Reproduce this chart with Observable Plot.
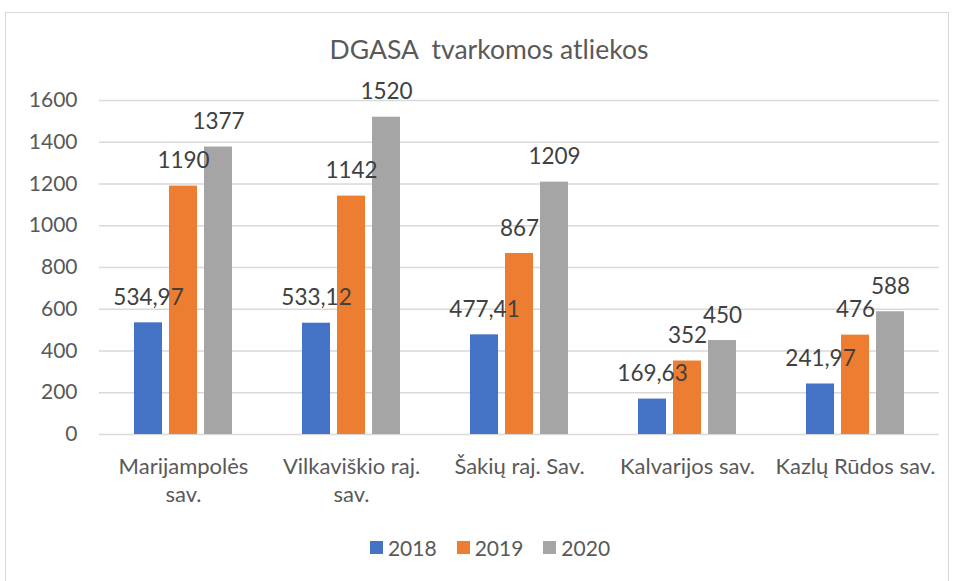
<!DOCTYPE html>
<html><head><meta charset="utf-8">
<script src="https://cdn.jsdelivr.net/npm/d3@7"></script>
<script src="https://cdn.jsdelivr.net/npm/@observablehq/plot@0.6"></script>
<style>
body{margin:0;background:#fff;font-family:Lato, sans-serif;}
#frame{position:absolute;left:5px;top:12px;width:944px;height:580px;border:1px solid #d9d9d9;box-sizing:border-box;}
#title{position:absolute;left:0;width:978px;top:33px;text-align:center;font-size:26.5px;color:#595959;white-space:pre;}
#chart{position:absolute;left:0;top:0;}
#legend{position:absolute;top:535px;left:0;width:980px;display:flex;justify-content:center;align-items:center;font-size:21px;color:#595959;}
#legend .item{display:flex;align-items:center;margin:0 10px;}
#legend .sw{width:13px;height:13px;margin-right:5px;}
</style></head>
<body>
<div id="frame"></div>
<div id="chart"></div>
<div id="title"></div>
<div id="legend"></div>
<script>
const categories = ["Marijampolės\nsav.", "Vilkaviškio raj.\nsav.", "Šakių raj. Sav.", "Kalvarijos sav.", "Kazlų Rūdos sav."];
const years = ["2018", "2019", "2020"];
const values2018 = [534.97, 533.12, 477.41, 169.63, 241.97];
const values2019 = [1190, 1142, 867, 352, 476];
const values2020 = [1377, 1520, 1209, 450, 588];
const colors = ["#4472C4", "#ED7D31", "#A5A5A5"];
const yTicks = [0, 200, 400, 600, 800, 1000, 1200, 1400, 1600];
const titleText = "DGASA  tvarkomos atliekos";

document.getElementById("title").textContent = titleText;

const series = [values2018, values2019, values2020];
const data = [];
categories.forEach((c, i) => years.forEach((y, j) => data.push({cat: c, year: y, value: series[j][i]})));

const chart = Plot.plot({
  width: 955, height: 520,
  marginLeft: 97, marginRight: 15, marginTop: 100, marginBottom: 86,
  style: {fontFamily: "Lato, sans-serif", fontSize: "20px", color: "#595959", background: "transparent"},
  fx: {domain: categories, padding: 0, label: null},
  x: {domain: years, paddingInner: 0.194, paddingOuter: 0.94, axis: null},
  y: {domain: [0, 1600], label: null},
  color: {domain: years, range: colors},
  marks: [
    Plot.ruleY(yTicks, {stroke: "#d9d9d9", strokeWidth: 1.5}),
    Plot.axisY({ticks: yTicks, tickFormat: d => String(d), tickSize: 0, tickPadding: 22, label: null, fontSize: 21}),
    Plot.barY(data, {fx: "cat", x: "year", y: "value", fill: "year"}),
    Plot.text(data, {fx: "cat", x: "year", y: "value", text: d => String(d.value).replace(".", ","), dy: -25, fill: "#404040", fontSize: 22.5}),
    Plot.axisFx({anchor: "bottom", tickSize: 0, tickPadding: 19, label: null, fontSize: 22, lineHeight: 1.3})
  ]
});
document.getElementById("chart").appendChild(chart);

const legend = document.getElementById("legend");
years.forEach((y, j) => {
  const it = document.createElement("div"); it.className = "item";
  const sw = document.createElement("div"); sw.className = "sw"; sw.style.background = colors[j];
  const t = document.createElement("span"); t.textContent = y;
  it.appendChild(sw); it.appendChild(t); legend.appendChild(it);
});
</script>
</body></html>
